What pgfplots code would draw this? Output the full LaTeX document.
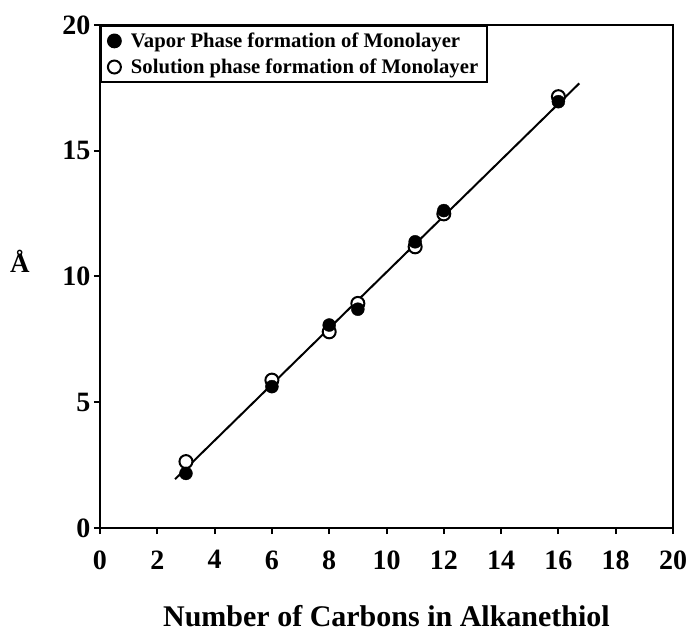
\documentclass[border=0pt]{standalone}
\usepackage{fontspec}
\setmainfont{Liberation Serif}
\usepackage{pgfplots}
\pgfplotsset{compat=1.18}
\begin{document}
\begin{tikzpicture}
\begin{axis}[
  scale only axis,
  width=573pt, height=503pt,
  xmin=0, xmax=20, ymin=0, ymax=20,
  xtick={0,2,...,20}, ytick={0,5,10,15,20},
  xtick pos=left, ytick pos=left,
  tick align=outside,
  major tick length=6pt,
  axis line style={line width=2.4pt},
  every tick/.style={line width=2pt, black},
  /pgf/number format/assume math mode=true,
  tick label style={font=\fontsize{28}{28}\selectfont\bfseries},
  xticklabel style={yshift=-13pt},
  xlabel={Number of Carbons in Alkanethiol},
  xlabel style={font=\fontsize{30}{30}\selectfont\bfseries, at={(axis description cs:0.5,0)}, anchor=base, yshift=-98pt},
  ylabel={Å},
  ylabel style={font=\fontsize{27}{27}\selectfont\bfseries, rotate=-90, at={(axis description cs:0,0.53)}, anchor=center, xshift=-80pt},
  legend style={at={(axis description cs:0,1)}, anchor=north west, draw=black, line width=1.8pt,
    font=\fontsize{20.7}{24}\selectfont\bfseries, inner xsep=7pt, inner ysep=5pt, row sep=6pt, column sep=8pt},
  legend cell align=left,
  reverse legend,
  clip=false,
]
\addplot[black, line width=2pt, forget plot] coordinates {(2.62,1.94) (16.73,17.68)};
\addplot[only marks, mark=*, mark size=6.5pt, mark options={fill=white, draw=black, line width=2pt}] coordinates {
 (3,2.64) (6,5.88) (8,7.8) (9,8.93) (11,11.18) (12,12.49) (16,17.15)};
\addplot[only marks, mark=*, mark size=6.5pt, mark options={fill=black, draw=black}] coordinates {
 (3,2.17) (6,5.62) (8,8.07) (9,8.70) (11,11.38) (12,12.62) (16,16.95)};
\legend{Solution phase formation of Monolayer, Vapor Phase formation of Monolayer}
\end{axis}
\pgfresetboundingbox
\path[use as bounding box] ([shift={(-100pt,-105pt)}]current axis.south west) rectangle ([shift={(19pt,25pt)}]current axis.north east);
\end{tikzpicture}
\end{document}
